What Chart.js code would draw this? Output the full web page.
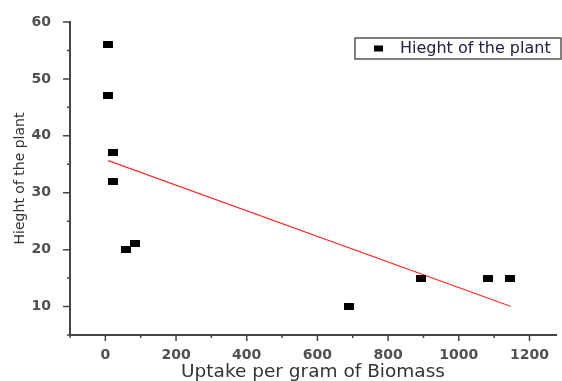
<!DOCTYPE html>
<html>
<head>
<meta charset="utf-8">
<script src="https://cdn.jsdelivr.net/npm/chart.js@4/dist/chart.umd.min.js"></script>
<style>
html,body{margin:0;padding:0;background:#fff;}
#wrap{width:562px;height:381px;position:relative;}
</style>
</head>
<body>
<div id="wrap"><canvas id="c" width="562" height="381"></canvas></div>
<script>
// ---- data ----
const uptake = [8, 8, 22, 22, 58, 83, 688, 893, 1083, 1146];
const height = [56, 47, 37, 32, 20, 21, 10, 15, 15, 15];
const xTickValues = [0, 200, 400, 600, 800, 1000, 1200];
const yTickValues = [10, 20, 30, 40, 50, 60];
const xMinorValues = [-100, 100, 300, 500, 700, 900, 1100];
const yMinorValues = [5, 15, 25, 35, 45, 55];
const seriesName = 'Hieght of the plant';
const xTitle = 'Uptake per gram of Biomass';
const yTitle = 'Hieght of the plant';

// least-squares fit line through the data
const n = uptake.length;
const mx = uptake.reduce((a, b) => a + b, 0) / n;
const my = height.reduce((a, b) => a + b, 0) / n;
let sxy = 0, sxx = 0;
for (let i = 0; i < n; i++) { sxy += (uptake[i] - mx) * (height[i] - my); sxx += (uptake[i] - mx) ** 2; }
const slope = sxy / sxx, icpt = my - slope * mx;
const xFitEnds = [Math.min(...uptake), Math.max(...uptake)];
const fitLine = xFitEnds.map(x => ({x: x, y: icpt + slope * x}));

const points = uptake.map((x, i) => ({x: x, y: height[i]}));

// rectangular marker
function marker(w, h) {
  const c = document.createElement('canvas');
  c.width = w; c.height = h;
  const g = c.getContext('2d');
  g.fillStyle = '#000';
  g.fillRect(0, 0, w, h);
  return c;
}
const mk = marker(10, 7);

const FONT = "'DejaVu Sans', sans-serif";

const extras = {
  id: 'extras',
  afterDraw(chart) {
    const ctx = chart.ctx;
    const xs = chart.scales.x, ys = chart.scales.y;
    const ca = chart.chartArea;
    ctx.save();
    ctx.strokeStyle = '#444';
    ctx.lineWidth = 1.5;
    ctx.beginPath();
    xTickValues.forEach(v => { const p = xs.getPixelForValue(v); ctx.moveTo(p, ca.bottom); ctx.lineTo(p, ca.bottom + 6); });
    xMinorValues.forEach(v => { const p = xs.getPixelForValue(v); ctx.moveTo(p, ca.bottom); ctx.lineTo(p, ca.bottom + 3); });
    yTickValues.forEach(v => { const p = ys.getPixelForValue(v); ctx.moveTo(ca.left, p); ctx.lineTo(ca.left - 7, p); });
    yMinorValues.forEach(v => { const p = ys.getPixelForValue(v); ctx.moveTo(ca.left, p); ctx.lineTo(ca.left - 3, p); });
    ctx.stroke();

    // legend box
    const bx = 355, by = 38, bw = 206, bh = 21;
    ctx.lineWidth = 1.5;
    ctx.strokeStyle = '#555';
    ctx.strokeRect(bx, by, bw, bh);
    ctx.fillStyle = '#000';
    ctx.fillRect(374, by + bh / 2 - 3, 9, 6);
    ctx.fillStyle = '#22223a';
    ctx.font = "16px " + FONT;
    ctx.textBaseline = 'middle';
    ctx.textAlign = 'left';
    ctx.fillText(seriesName, 400, by + bh / 2 + 0.5);
    ctx.restore();
  }
};

new Chart(document.getElementById('c'), {
  type: 'scatter',
  data: {
    datasets: [
      {
        label: seriesName,
        data: points,
        pointStyle: mk,
        pointRadius: 5,
        backgroundColor: '#000',
        borderColor: '#000',
        order: 1
      },
      {
        type: 'line',
        label: 'fit',
        data: fitLine,
        borderColor: '#ff2a2a',
        borderWidth: 1.2,
        pointRadius: 0,
        fill: false,
        order: 2
      }
    ]
  },
  options: {
    responsive: false,
    animation: false,
    layout: {padding: {top: 22, right: 0, left: 0, bottom: 0}},
    plugins: {legend: {display: false}, tooltip: {enabled: false}},
    scales: {
      x: {
        type: 'linear',
        min: -100,
        max: 1275,
        afterBuildTicks: s => { s.ticks = xTickValues.map(v => ({value: v})); },
        afterFit: s => { s.height = 46; },
        grid: {display: false},
        border: {display: true, color: '#444', width: 2},
        ticks: {
          padding: 4,
          color: '#505050',
          font: {family: FONT, size: 14, weight: 'bold'},
          maxRotation: 0,
          autoSkip: false,
          callback: v => String(v)
        },
        title: {
          display: true,
          text: xTitle,
          color: '#333',
          font: {family: FONT, size: 18.5, lineHeight: 1.0},
          padding: {top: 0, bottom: 0}
        }
      },
      y: {
        type: 'linear',
        min: 5,
        max: 60,
        afterBuildTicks: s => { s.ticks = yTickValues.map(v => ({value: v})); },
        afterFit: s => { s.width = 70; },
        grid: {display: false},
        border: {display: true, color: '#444', width: 2},
        ticks: {
          padding: 11,
          color: '#505050',
          font: {family: FONT, size: 14, weight: 'bold'},
          autoSkip: false,
          callback: v => String(v)
        },
        title: {
          display: true,
          text: yTitle,
          color: '#333',
          font: {family: FONT, size: 14},
          padding: {top: 12, bottom: 0}
        }
      }
    }
  },
  plugins: [extras]
});
</script>
</body>
</html>
